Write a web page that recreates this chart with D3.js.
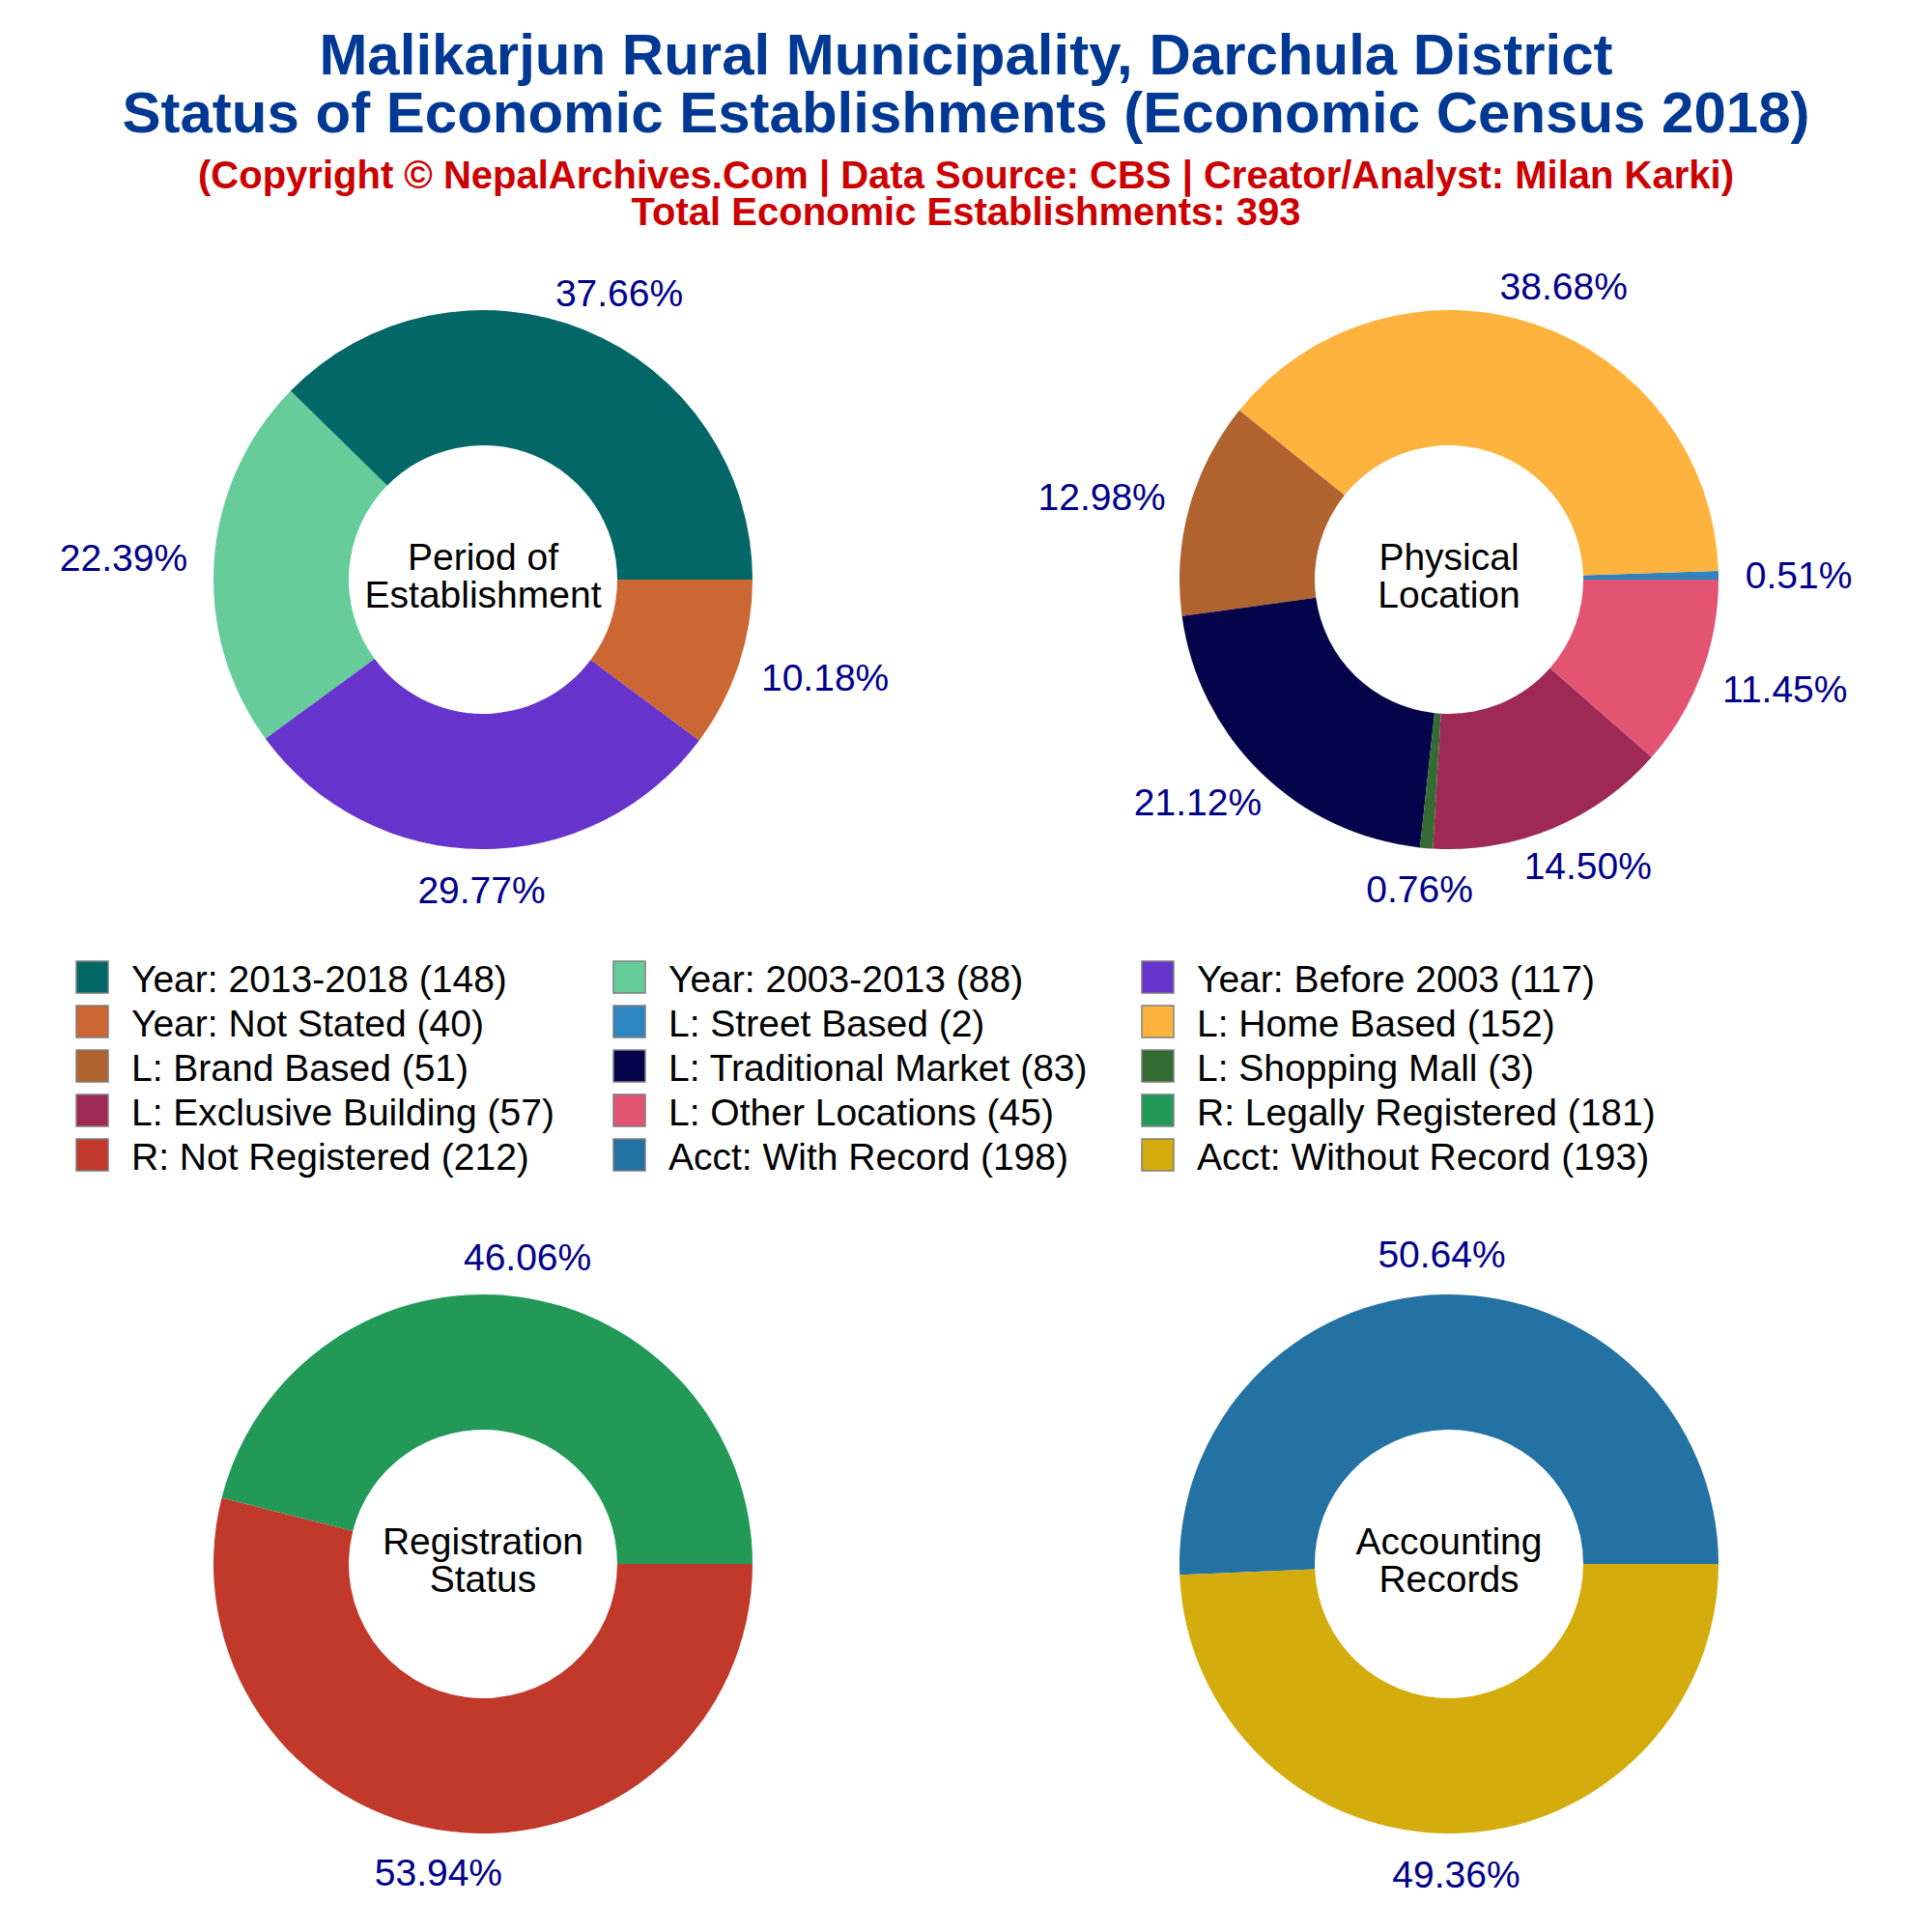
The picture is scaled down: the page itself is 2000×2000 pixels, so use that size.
<!DOCTYPE html>
<html>
<head>
<meta charset="utf-8">
<script src="https://cdn.jsdelivr.net/npm/d3@7"></script>
<style>
  html, body { margin: 0; padding: 0; background: #ffffff; }
  svg { display: block; }
  text { font-family: "Liberation Sans", Arial, Helvetica, sans-serif; }
</style>
</head>
<body>
<svg id="chart" width="2000" height="2000"></svg>
<script>
// ---------------- DATA ----------------
const titleLines = [
  "Malikarjun Rural Municipality, Darchula District",
  "Status of Economic Establishments (Economic Census 2018)"
];
const subtitleLines = [
  "(Copyright \u00A9 NepalArchives.Com | Data Source: CBS | Creator/Analyst: Milan Karki)",
  "Total Economic Establishments: 393"
];

const periodLabels = ["Year: 2013-2018", "Year: 2003-2013", "Year: Before 2003", "Year: Not Stated"];
const periodValues = [148, 88, 117, 40];
const periodColors = ["#026766", "#66CC99", "#6633CC", "#CC6633"];

const locationLabels = ["L: Street Based", "L: Home Based", "L: Brand Based", "L: Traditional Market",
                        "L: Shopping Mall", "L: Exclusive Building", "L: Other Locations"];
const locationValues = [2, 152, 51, 83, 3, 57, 45];
const locationColors = ["#2E86C1", "#FFB33F", "#B0622F", "#04044A", "#336B33", "#9E2955", "#E35473"];

const registrationLabels = ["R: Legally Registered", "R: Not Registered"];
const registrationValues = [181, 212];
const registrationColors = ["#229957", "#C0392B"];

const accountingLabels = ["Acct: With Record", "Acct: Without Record"];
const accountingValues = [198, 193];
const accountingColors = ["#2471A3", "#D4AC0D"];

const centerTitles = [
  ["Period of", "Establishment"],
  ["Physical", "Location"],
  ["Registration", "Status"],
  ["Accounting", "Records"]
];

// ---------------- LAYOUT ----------------
const svg = d3.select("#chart");
svg.append("rect").attr("width", 2000).attr("height", 2000).attr("fill", "#ffffff");

const titleColor = "#003893";
const subColor = "#CC0000";
const pctColor = "#00008B";

// Titles
svg.selectAll("text.title").data(titleLines).join("text")
  .attr("class", "title")
  .attr("x", 1000).attr("y", (d, i) => 77 + i * 60)
  .attr("text-anchor", "middle")
  .attr("font-size", 60).attr("font-weight", "bold")
  .attr("fill", titleColor)
  .text(d => d);

svg.selectAll("text.subtitle").data(subtitleLines).join("text")
  .attr("class", "subtitle")
  .attr("x", 1000).attr("y", (d, i) => 195 + i * 38)
  .attr("text-anchor", "middle")
  .attr("font-size", 40).attr("font-weight", "bold")
  .attr("fill", subColor)
  .text(d => d);

// Donuts
const R = 279, r0 = 139;
const pieSpecs = [
  { cx: 500,  cy: 600,  labels: periodLabels, values: periodValues, colors: periodColors, title: centerTitles[0] },
  { cx: 1500, cy: 600,  labels: locationLabels, values: locationValues, colors: locationColors, title: centerTitles[1] },
  { cx: 500,  cy: 1619, labels: registrationLabels, values: registrationValues, colors: registrationColors, title: centerTitles[2] },
  { cx: 1500, cy: 1619, labels: accountingLabels, values: accountingValues, colors: accountingColors, title: centerTitles[3] }
];

const pie = d3.pie().sort(null).value(d => d.v)
  .startAngle(Math.PI / 2).endAngle(Math.PI / 2 - 2 * Math.PI);
const arc = d3.arc().innerRadius(r0).outerRadius(R);
const pctFont = 39;

pieSpecs.forEach(spec => {
  const data = spec.values.map((v, i) => ({ v, label: spec.labels[i], color: spec.colors[i] }));
  const total = d3.sum(spec.values);
  const g = svg.append("g").attr("transform", `translate(${spec.cx},${spec.cy})`);
  const arcs = pie(data);

  g.selectAll("path").data(arcs).join("path")
    .attr("d", arc)
    .attr("fill", d => d.data.color);

  // percentage labels
  arcs.forEach(a => {
    const mid = (a.startAngle + a.endAngle) / 2;
    const ux = Math.sin(mid), uy = -Math.cos(mid);
    const t = g.append("text")
      .attr("font-size", pctFont)
      .attr("fill", pctColor)
      .attr("text-anchor", "middle")
      .text((a.data.v / total * 100).toFixed(2) + "%");
    const w = t.node().getComputedTextLength();
    const h = pctFont * 0.72;
    const L = R * 1.1;
    const px = L * ux + ux * w / 2;
    const py = L * uy + uy * h / 2;
    t.attr("x", px).attr("y", py + h / 2);
  });

  // centre title
  g.selectAll("text.center").data(spec.title).join("text")
    .attr("class", "center")
    .attr("x", 0)
    .attr("y", (d, i) => -10 + i * 39)
    .attr("text-anchor", "middle")
    .attr("font-size", 39)
    .attr("fill", "#000000")
    .text(d => d);
});

// Legend
const legendItems = [];
pieSpecs.forEach(spec => spec.values.forEach((v, i) => legendItems.push({ label: spec.labels[i], v, color: spec.colors[i] })));
const colX = [79, 635, 1182];
const rowY0 = 995, rowStep = 46, sw = 33;
const lg = svg.append("g");
const items = lg.selectAll("g.item").data(legendItems).join("g")
  .attr("class", "item")
  .attr("transform", (d, i) => `translate(${colX[i % 3]},${rowY0 + Math.floor(i / 3) * rowStep})`);
items.append("rect")
  .attr("x", 0).attr("y", 0).attr("width", sw).attr("height", sw)
  .attr("fill", d => d.color)
  .attr("stroke", "#7f7f7f").attr("stroke-width", 1.5);
items.append("text")
  .attr("x", 57).attr("y", 32)
  .attr("font-size", 39)
  .attr("fill", "#000000")
  .text(d => `${d.label} (${d.v})`);
</script>
</body>
</html>
